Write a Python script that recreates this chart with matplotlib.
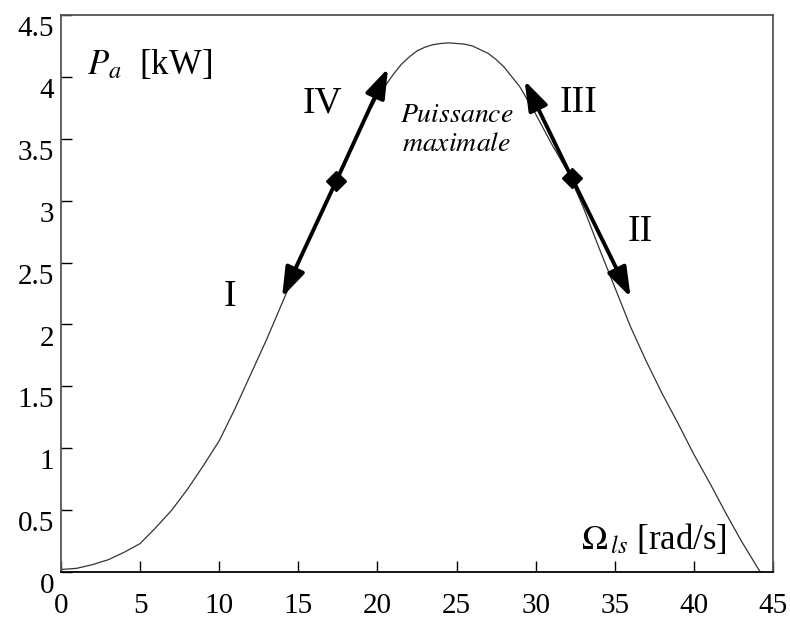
import numpy as np
import matplotlib
matplotlib.use("Agg")
import matplotlib.pyplot as plt
from matplotlib.transforms import ScaledTranslation

plt.rcParams['font.family'] = ['Liberation Serif', 'DejaVu Serif']
plt.rcParams['mathtext.fontset'] = 'stix'

# power curve P_a vs Omega_ls
omega = [0, 1, 2, 3, 4, 5, 6, 7, 8, 9, 10, 11, 12, 13, 14, 15, 16, 17, 18, 19, 20,
         21, 21.5, 22, 22.5, 23, 23.5, 24, 24.5, 25, 25.5, 26, 26.5, 27, 27.5, 28,
         29, 30, 31, 32, 33, 34, 35, 36, 37, 38, 39, 40, 41, 42, 43, 44, 44.2]
power = [0.02, 0.03, 0.06, 0.10, 0.16, 0.23, 0.36, 0.50, 0.67, 0.86, 1.06, 1.32,
         1.60, 1.88, 2.18, 2.48, 2.78, 3.06, 3.34, 3.61, 3.84, 4.02, 4.10, 4.16,
         4.21, 4.24, 4.26, 4.27, 4.275, 4.27, 4.265, 4.25, 4.22, 4.19, 4.14, 4.08,
         3.92, 3.70, 3.46, 3.24, 2.95, 2.62, 2.30, 1.98, 1.70, 1.44, 1.20, 0.95,
         0.72, 0.48, 0.25, 0.04, 0.0]

# operating points (diamonds) and arrow tips
op_x = [17.4, 32.3]
op_y = [3.16, 3.18]
tips = [[(13.97, 2.22), (20.67, 4.07)],   # I, IV
        [(29.3, 3.97), (36.0, 2.22)]]     # III, II

labels = ["I", "IV", "III", "II"]
label_x = [10.7, 16.5, 32.7, 36.6]
label_y = [2.22, 3.79, 3.79, 2.75]

fig = plt.figure(figsize=(7.9, 6.18), dpi=100)
ax = fig.add_axes([0.0772, 0.0744, 0.9013, 0.9013])

ax.plot(omega, power, color='#333333', lw=0.9)

for (x0, y0), pair in zip(zip(op_x, op_y), tips):
    for (xt, yt) in pair:
        ax.annotate('', xy=(xt, yt), xytext=(x0, y0),
                    arrowprops=dict(arrowstyle='-|>,head_length=1.0,head_width=0.34',
                                    color='black', lw=2.8, shrinkA=0, shrinkB=0,
                                    mutation_scale=18))
ax.plot(op_x, op_y, 'D', color='black', ms=10)

for t, x, y in zip(labels, label_x, label_y):
    ax.text(x, y, t, fontsize=27, ha='center', va='center')

ax.text(25.0, 3.69, r"$\mathit{Puissance}$", fontsize=20, ha='center', va='center')
ax.text(25.0, 3.45, r"$\mathit{maximale}$", fontsize=20, ha='center', va='center')
ax.text(5.6, 4.10, r"$P_a$  [kW]", fontsize=25, ha='center', va='center')
ax.text(37.5, 0.26, r"$\Omega_{\,ls}$ [rad/s]", fontsize=25, ha='center', va='center')

ax.set_xlim(0, 45)
ax.set_ylim(0, 4.5)
ax.set_xticks(np.arange(0, 46, 5))
ax.set_yticks(np.arange(0, 4.6, 0.5))
ax.set_yticklabels(['0', '0.5', '1', '1.5', '2', '2.5', '3', '3.5', '4', '4.5'])
ax.tick_params(direction='in', length=8, width=1, labelsize=21, top=False, right=False)
ax.tick_params(axis='x', pad=15)
ax.tick_params(axis='y', pad=5)
shift = ScaledTranslation(0, -8 / 72, fig.dpi_scale_trans)
for lab in ax.get_yticklabels():
    lab.set_transform(lab.get_transform() + shift)
for s in ax.spines.values():
    s.set_color('#555555')
    s.set_linewidth(1.3)
ax.spines['bottom'].set_color('black')

fig.savefig('out.png', dpi=100)
